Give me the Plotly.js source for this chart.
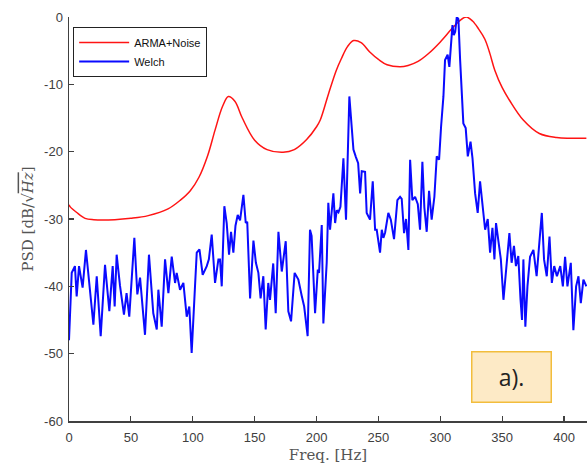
<!DOCTYPE html>
<html>
<head>
<meta charset="utf-8">
<script src="https://cdn.plot.ly/plotly-3.0.1.min.js"></script>
<style>html,body{margin:0;padding:0;background:#fff;}#chart{width:587px;height:471px;}</style>
</head>
<body>
<div id="chart"></div>
<script>
// ARMA+Noise model PSD (red)
var armaFreq = [0, 1, 6, 13, 20, 37, 50, 64, 80, 90, 98, 105, 112, 118, 124, 128.7, 134, 140, 150, 160, 173, 182, 192, 200, 203, 210, 216, 220, 225, 230, 236, 243, 250, 257, 267.5, 274, 282, 290, 300, 310, 316, 321, 326, 331, 336, 340, 344, 350, 356, 367, 380, 394, 405, 418];
var armaPsd  = [-27.9, -28.2, -29, -29.9, -30.1, -30.1, -29.9, -29.5, -28.5, -27.2, -25.8, -23.8, -20.6, -16.8, -13.3, -11.8, -12.5, -15, -18.3, -19.7, -20.1, -19.7, -18.2, -16.3, -15.3, -11.2, -7.9, -6.2, -4.4, -3.5, -3.8, -5.2, -6.3, -7.1, -7.4, -7.2, -6.6, -5.5, -3.7, -1.6, -0.5, 0, -0.6, -1.8, -3.3, -5.4, -7.9, -10.5, -12.4, -15.3, -17.3, -17.9, -18, -18];

// Welch PSD estimate (blue)
var welchFreq = [0, 1, 2.2, 4.8, 6.2, 8.1, 11, 13.7, 17, 19.7, 22.4, 25.6, 29.1, 32.6, 35.3, 36.9, 38.5, 41.2, 44.4, 46.5, 48.7, 52.8, 55.2, 57.4, 61.4, 64.6, 68.1, 70.9, 72.2, 74.9, 77.6, 80.3, 83, 85.7, 87, 89.7, 92.4, 95.1, 97.2, 99.1, 101.8, 103.2, 105.4, 108, 111.3, 113, 115.3, 118, 120.7, 122, 123.4, 125.5, 127.4, 129.3, 130.9, 132.8, 134.5, 136.3, 138.2, 140.9, 142.8, 144, 146.3, 149, 151, 153, 154.8, 157, 158.9, 161, 162.4, 165, 167, 169.2, 171.9, 175.1, 177.2, 179.4, 182.3, 185.3, 188, 190, 192.8, 194.7, 196, 198.8, 201, 202, 204.2, 205.5, 208.2, 209.5, 210.9, 212.2, 213.6, 215, 216.3, 217.7, 219.3, 221.7, 223.8, 226.5, 228.4, 229.8, 231.8, 233.6, 235.2, 236.5, 239.2, 240.5, 243.2, 245.4, 247.3, 248.6, 251.3, 252.7, 254, 255.4, 258, 260, 262.6, 265.3, 267.5, 268.8, 270.7, 272.3, 274.2, 275.6, 277.4, 279.6, 281.8, 283.6, 285.5, 287.1, 289, 290.9, 293, 295.2, 297.1, 299, 300.6, 302.5, 303.8, 305.9, 307.3, 308.7, 309.8, 310.9, 312, 313.3, 314.6, 316, 317.3, 318.6, 320.5, 322.2, 324.4, 326, 328.1, 330.2, 332.1, 334, 336.2, 338.3, 340.2, 342.1, 343.7, 345, 347, 348.9, 351, 353.1, 355.8, 357.6, 359.5, 361.1, 363, 364.8, 366, 367.1, 368.7, 370.4, 372.5, 375.2, 377.8, 380, 382, 383.8, 386, 388.2, 390.1, 392, 394.2, 396.9, 399, 400.8, 402.7, 405.4, 407.5, 409.7, 411.6, 413.5, 415.6, 418];
var welchPsd  = [-48, -42, -38, -37, -41.5, -37, -40.2, -34.6, -41, -45.7, -38.5, -47.4, -36.8, -43.7, -37, -43, -35.3, -39.9, -44.2, -41, -44.5, -32.8, -41.2, -38.7, -47.2, -35.3, -44, -46.4, -40.5, -46, -36, -41, -35.6, -39.5, -38, -40.5, -39.5, -44.5, -43, -49.9, -40, -35, -34.5, -38.3, -37, -36, -32.3, -39.5, -36, -36, -40, -28.1, -30.6, -35.3, -31.9, -35, -31, -29.4, -30.2, -26.4, -30.6, -30.4, -41.8, -33.2, -36.5, -38, -41.8, -38.5, -46.4, -39.5, -42, -36.6, -44, -31.9, -37.8, -33.3, -43.7, -45.2, -38, -39, -41.4, -43, -47.4, -31.6, -32.5, -44, -37.5, -38, -30.9, -45.5, -36.5, -27.6, -31.6, -28.7, -26.2, -30.6, -28.7, -29, -28.2, -21, -30.1, -11.8, -16.3, -19.7, -20.8, -21.7, -26.2, -22.9, -23, -29.1, -30.1, -24.4, -31.6, -31.6, -35, -31.6, -32.8, -32, -29.1, -30.1, -33, -27.2, -26.7, -27, -32.1, -30, -34.6, -21.2, -27.2, -26.7, -27.8, -31.6, -21.5, -28.3, -31.9, -25.8, -30.1, -26.7, -20.7, -21.2, -16.3, -11.8, -6.4, -5.6, -7.4, -3.4, -1.2, -2.7, -2.2, 0, -0.3, -6.4, -11.3, -15.8, -16.5, -20.7, -18.5, -21, -26.2, -29.1, -24.4, -27.6, -31.6, -30, -35, -31.3, -36, -30.6, -33.5, -36, -42, -38, -32.1, -36.5, -34, -37, -35.5, -42, -45, -36, -46, -40, -35.6, -34.6, -38.5, -33.5, -29.1, -36, -38.5, -32.6, -39.5, -37, -38.5, -37, -40, -35.6, -40, -36.5, -46.5, -40, -38.5, -42.5, -39, -40];

// tick labels
var xTickVals = [0, 50, 100, 150, 200, 250, 300, 350, 400];
var xTickText = ['0', '50', '100', '150', '200', '250', '300', '350', '400'];
var yTickVals = [0, -10, -20, -30, -40, -50, -60];
var yTickText = ['0', '-10', '-20', '-30', '-40', '-50', '-60'];

var traces = [
  {x: armaFreq, y: armaPsd, type: 'scatter', mode: 'lines', name: 'ARMA+Noise',
   line: {color: 'rgb(255,20,20)', width: 1.5, shape: 'spline', smoothing: 1}},
  {x: welchFreq, y: welchPsd, type: 'scatter', mode: 'lines', name: 'Welch',
   line: {color: 'rgb(10,10,255)', width: 2}}
];

var tickFont = {family: 'Liberation Sans, Arial, sans-serif', size: 13, color: '#404040'};
var titleFont = {family: 'DejaVu Serif, Liberation Serif, serif', size: 15, color: '#555'};
var layout = {
  width: 587, height: 471,
  margin: {l: 69, r: 0, t: 17, b: 50, pad: 0},
  paper_bgcolor: '#ffffff', plot_bgcolor: '#ffffff',
  showlegend: true,
  legend: {x: 0.008, y: 0.975, xanchor: 'left', yanchor: 'top',
           bgcolor: '#ffffff', bordercolor: '#222222', borderwidth: 1,
           font: {family: 'Liberation Sans, Arial, sans-serif', size: 11, color: '#111'},
           tracegroupgap: 0, itemwidth: 50},
  xaxis: {range: [0, 418.5], tickvals: xTickVals, ticktext: xTickText,
          ticks: 'inside', ticklen: 5, tickwidth: 1.2, tickcolor: '#404040',
          showline: true, linecolor: '#404040', linewidth: 1.5, mirror: false,
          showgrid: false, zeroline: false, tickfont: tickFont, ticklabelstandoff: 4,
          title: {text: 'Freq. [Hz]', font: titleFont, standoff: 5}},
  yaxis: {range: [-60, 0], tickvals: yTickVals, ticktext: yTickText,
          ticks: 'inside', ticklen: 5, tickwidth: 1.2, tickcolor: '#404040',
          showline: true, linecolor: '#404040', linewidth: 1.5, mirror: false,
          showgrid: false, zeroline: false, tickfont: tickFont, ticklabelstandoff: 2,
          title: {text: 'PSD [dB/√<span style="text-decoration:overline"><i>Hz</i></span>]', font: titleFont, standoff: 7}},
  annotations: [{
    xref: 'paper', yref: 'paper', x: 0.855, y: 0.109, xanchor: 'center', yanchor: 'middle',
    text: 'a).', showarrow: false,
    font: {family: 'Open Sans, Liberation Sans, sans-serif', size: 23, color: '#222'},
    bgcolor: '#fdeac6', bordercolor: '#f2bd3c', borderwidth: 1.5, borderpad: 2,
    width: 74, height: 45
  }]
};

Plotly.newPlot('chart', traces, layout, {displayModeBar: false, staticPlot: true});
</script>
</body>
</html>
